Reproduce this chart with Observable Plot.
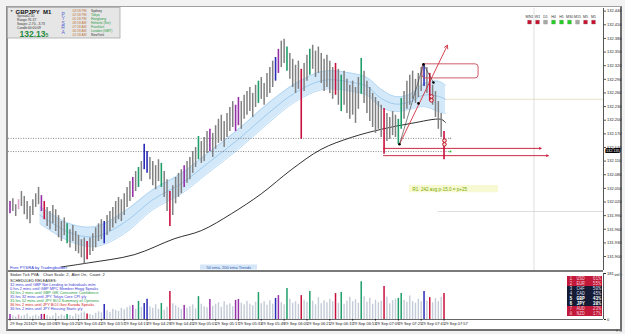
<!DOCTYPE html>
<html><head><meta charset="utf-8">
<script src="https://cdn.jsdelivr.net/npm/d3@7"></script>
<script src="https://cdn.jsdelivr.net/npm/@observablehq/plot@0.6"></script>
<style>
html,body{margin:0;padding:0;background:#f2f2f2;overflow:hidden;}
#wrap{position:relative;width:625px;height:334px;overflow:hidden;background:#f2f2f2;}
#frame{position:absolute;left:6px;top:6px;width:616px;height:325px;box-sizing:border-box;background:#fff;
  border-left:2px solid #8d8d8d;border-top:1px solid #a0a0a0;border-right:2px solid #6f6f6f;border-bottom:2px solid #6f6f6f;}
.layer{position:absolute;}
</style></head><body><div id="wrap"><div id="frame"></div></div>
<script>
// ---------------- DATA ----------------
const symbolName = "GBPJPY  M1";
const bidPrice = 132.135;
const infoLabels = ["Spread:", "Range:", "Swaps:", "Candle:"];
const infoValues = ["2.50", "91.37", "-2.70, -3.73", "00:00:09"];
const sessionTimes = ["03:58 PM", "02:58 PM", "01:58 PM", "08:58 AM", "07:58 AM", "06:58 AM", "01:58 AM"];
const sessionCities = ["Sydney", "Tokyo", "Hongkong", "Helsinki (Srv)", "Frankfurt", "London (GMT)", "NewYork"];
const sessionOpen = [false, true, true, true, true, true, false];
const timeframes = ["MN1", "W1", "D1", "H4", "H1", "M30", "M15", "M5", "M1"];
const tfTrend = ["down", "down", "flat", "up", "up", "up", "flat", "down", "down"];

const priceTicks = [131.90,131.93,131.96,131.99,132.02,132.05,132.08,132.11,132.14,132.17,132.20,132.23,132.26,132.29,132.32,132.35,132.38,132.41,132.44];
const volumeTicks = [0, 181];
const labelMinutes = [0,16,32,48,64,80,96,112,128,144,160,176,192,208,224,240,256,272,288,304];
const timeLabels = ["29 Sep 2016","29 Sep 03:09","29 Sep 03:25","29 Sep 03:41","29 Sep 03:57","29 Sep 04:13","29 Sep 04:29","29 Sep 04:45","29 Sep 05:01","29 Sep 05:17","29 Sep 05:33","29 Sep 05:49","29 Sep 06:05","29 Sep 06:21","29 Sep 06:37","29 Sep 06:53","29 Sep 07:09","29 Sep 07:25","29 Sep 07:41","29 Sep 07:57"];

// 2-minute bars (bar k starts at minute 2k)
const barHigh = [132.021,132.027,132.014,132.025,132.043,132.032,132.021,132.010,132.025,132.038,
 132.052,132.034,132.021,132.008,131.999,132.012,132.003,131.990,131.977,131.985,
 131.972,131.959,131.968,131.955,131.946,131.937,131.941,131.933,131.941,131.950,
 131.963,131.972,131.981,131.977,131.990,131.999,132.008,132.021,132.030,132.025,
 132.038,132.052,132.065,132.074,132.087,132.096,132.109,132.147,132.131,132.118,
 132.109,132.100,132.113,132.105,132.087,132.069,132.043,132.056,132.074,132.083,
 132.091,132.100,132.109,132.118,132.131,132.140,132.164,132.153,132.162,132.175,
 132.180,132.171,132.188,132.202,132.211,132.197,132.215,132.228,132.241,132.233,
 132.250,132.241,132.255,132.263,132.272,132.259,132.277,132.286,132.294,132.281,
 132.303,132.316,132.330,132.338,132.356,132.374,132.378,132.361,132.347,132.334,
 132.321,132.330,132.312,132.325,132.343,132.356,132.365,132.352,132.361,132.347,
 132.334,132.343,132.330,132.316,132.325,132.312,132.299,132.308,132.290,132.277,
 132.286,132.272,132.294,132.336,132.308,132.286,132.272,132.259,132.250,132.241,
 132.233,132.226,132.215,132.206,132.219,132.211,132.202,132.248,132.263,132.286,
 132.299,132.308,132.290,132.303,132.316,132.323,132.316,132.303,132.277,132.263,
 132.241,132.215,132.175];
const barLow = [131.994,131.999,131.988,132.003,132.010,131.992,131.981,131.972,131.990,132.008,
 132.014,131.999,131.981,131.966,131.959,131.972,131.955,131.941,131.933,131.946,
 131.928,131.919,131.933,131.911,131.906,131.897,131.884,131.893,131.902,131.911,
 131.919,131.933,131.937,131.928,131.946,131.955,131.963,131.972,131.981,131.977,
 131.990,132.008,132.021,132.030,132.043,132.052,132.065,132.091,132.083,132.069,
 132.056,132.047,132.065,132.052,132.030,131.999,131.966,131.990,132.016,132.030,
 132.038,132.052,132.061,132.069,132.083,132.096,132.113,132.105,132.109,132.127,
 132.131,132.118,132.136,132.149,132.153,132.140,132.162,132.175,132.184,132.175,
 132.188,132.180,132.202,132.211,132.219,132.206,132.228,132.237,132.246,132.233,
 132.250,132.259,132.272,132.286,132.303,132.316,132.325,132.308,132.290,132.272,
 132.259,132.268,132.158,132.263,132.286,132.299,132.312,132.294,132.303,132.281,
 132.263,132.272,132.259,132.246,132.255,132.233,132.219,132.233,132.215,132.202,
 132.211,132.193,132.224,132.257,132.237,132.215,132.197,132.184,132.171,132.180,
 132.162,132.125,132.153,132.158,132.166,132.162,132.147,132.180,132.202,132.224,
 132.233,132.246,132.237,132.250,132.263,132.274,132.259,132.241,132.233,132.206,
 132.180,132.162,132.113];
const tickVolume = [20,14,10,18,12,16,22,10,14,18,
 12,20,20,16,10,14,24,12,18,14,
 20,16,12,22,18,26,30,22,20,16,
 24,30,26,59,34,28,40,36,32,44,
 38,46,52,55,40,71,48,63,80,50,
 44,58,40,63,36,48,110,62,54,46,
 40,55,44,50,58,42,90,60,50,46,
 79,52,60,66,48,70,56,62,50,75,
 79,64,58,72,60,54,68,106,62,70,
 56,74,60,83,94,66,58,122,80,64,
 70,60,94,76,68,110,72,58,86,62,
 74,66,80,70,102,64,106,60,72,88,
 70,78,64,149,90,68,84,60,76,66,
 72,130,88,62,74,80,83,102,76,68,
 92,70,64,80,70,110,72,86,66,82,
 70,88,102];
const pvaIdx  = [0,3,11,12,20,27,33,43,45,47,48,53,56,61,66,70,79,80,87,93,94,97,102,105,114,116,123,131,136,137,145,147,152];
const pvaType = ["rising","risingLight","rising","climaxBear","climaxBull","climaxBear","churn","rising","climaxBull","churn","churn","climaxBull","climaxBear","rising","climaxBull","rising","rising","rising","climaxBull","churn","rising","climaxBull","climaxBear","climaxBull","climaxBear","climaxBull","climaxBull","climaxBear","climaxBull","climaxBull","churn","climaxBear","climaxBear"];

// 50 EMA ribbon and 200 EMA (read at sample minutes)
const bandMinute = [21,42,60,80,100,120,140,160,180,200,220,240,250,260,270,280,290,300,305];
const bandUpper = [132.010,131.972,131.966,131.999,132.047,132.083,132.131,132.180,132.235,132.281,132.308,132.303,132.294,132.268,132.252,132.257,132.281,132.286,132.277];
const bandLower = [131.972,131.933,131.922,131.950,132.003,132.038,132.087,132.136,132.191,132.241,132.268,132.263,132.255,132.228,132.219,132.224,132.230,132.219,132.215];
const ema200Minute = [36,55,87,115,134,155,176,197,218,239,260,281,302,305];
const ema200Value = [131.877,131.886,131.904,131.939,131.957,131.994,132.038,132.091,132.136,132.162,132.180,132.193,132.202,132.195];

// drawn objects
const dottedLevels = [132.160, 132.131];
const zoneLevels = [132.138, 132.122];
const zoneStart = 261.6, zoneEnd = [372, 377];
const faintLevels = [132.246, 131.999];
const nowMinute = 367;
const swingMinute = [272.8, 286.1, 289.6, 296.6];
const swingPrice = [132.147, 132.237, 132.323, 132.283];
const arrowFrom = [272.8, 132.147], arrowTo = [306.4, 132.365];
const targetBox = {m1: 288.9, m2: 328.2, p1: 132.323, p2: 132.292};
const eightMinute = [295.2, 304.3], eightPrice = [132.248, 132.151];
const markMinute = [308.5, 308.5], markPrice = [132.160, 132.131];
const r1Text = "R1: 242 avg p-15.0 = p+25";

const releases = ["32 mins until GBP Net Lending to Individuals m/m",
 "0 hrs 2 mins until GBP MPC Member Hogg Speaks",
 "34 hrs 2 mins until GBP GfK Consumer Confidence",
 "35 hrs 32 mins until JPY Tokyo Core CPI y/y",
 "35 hrs 52 mins until JPY BOJ Summary of Opinions",
 "36 hrs 2 mins until JPY BOJ Gov Kuroda Speaks",
 "36 hrs 2 mins until JPY Housing Starts y/y"];
const releaseImpact = ["low","low","medium","low","medium","high","low"];

const currencies = ["USD","EUR","CHF","CAD","GBP","JPY","AUD","NZD"];
const strengths = [61,55,50,45,43,38,23,17];

// ---------------- STYLE ----------------
const font = "Liberation Sans, Arial, sans-serif";
const pvaColors = {climaxBull:"#1f9e6a", climaxBear:"#c8103c", churn:"#2a2ab8", rising:"#9630a8", risingLight:"#dda0c8"};
const trendColors = {up:"#22d022", down:"#c8102e", flat:"#a8a8a8"};
const impactColors = {low:"#3a3ad0", medium:"#1e9a40", high:"#d02020"};
const xDomain = [-1.05, 415.7];
const wrap = document.getElementById("wrap");
function place(el, left, top){ el.classList.add("layer"); el.style.left = left+"px"; el.style.top = top+"px"; wrap.appendChild(el); }

const bars = barHigh.map((h, k) => {
  const j = pvaIdx.indexOf(k);
  return {t: 2*k, high: h, low: barLow[k], vol: tickVolume[k], type: j >= 0 ? pvaType[j] : "normal"};
});
const normalBars = bars.filter(d => d.type === "normal");
const pvaBars = bars.filter(d => d.type !== "normal");
const band = bandMinute.map((t,i) => ({t, hi: bandUpper[i], lo: bandLower[i]}));
const ema = ema200Minute.map((t,i) => ({t, v: ema200Value[i]}));
const swings = swingMinute.map((t,i) => ({t, p: swingPrice[i]}));
const eights = eightMinute.map((t,i)=>({t, p: eightPrice[i]}));

// ---------------- MAIN CHART ----------------
const main = Plot.plot({
  width: 617, height: 262, marginTop: 0, marginBottom: 0, marginLeft: 0, marginRight: 22,
  style: {background: "transparent", fontFamily: font, fontSize: "4px", color: "#222"},
  color: {type: "identity"},
  x: {domain: xDomain, axis: null},
  y: {domain: [131.8692, 132.4459]},
  marks: [
    Plot.ruleX([nowMinute], {stroke: "#d6d6d6", strokeWidth: 0.8}),
    Plot.ruleY([faintLevels[0]], {x1: 300, x2: xDomain[1], stroke: "#e4d9bf", strokeWidth: 0.8}),
    Plot.ruleY([faintLevels[1]], {x1: 300, x2: xDomain[1], stroke: "#d4d4d4", strokeWidth: 0.8}),
    Plot.areaY(band, {x: "t", y1: "lo", y2: "hi", fill: "#d3e8f9", curve: "catmull-rom"}),
    Plot.line(band, {x: "t", y: "hi", stroke: "#a7d0f1", strokeWidth: 0.8, curve: "catmull-rom"}),
    Plot.line(band, {x: "t", y: "lo", stroke: "#a7d0f1", strokeWidth: 0.8, curve: "catmull-rom"}),
    Plot.line(band, {x: "t", y: d => (d.hi + d.lo) / 2, stroke: "#86bde8", strokeWidth: 0.7, curve: "catmull-rom"}),
    Plot.ruleY(dottedLevels, {x1: -1, x2: 308, stroke: "#555", strokeDasharray: "1 1.5", strokeWidth: 0.7}),
    Plot.line(ema, {x: "t", y: "v", stroke: "#1a1a1a", strokeWidth: 0.9, curve: "catmull-rom"}),
    Plot.ruleX(normalBars, {x: "t", y1: "low", y2: "high", stroke: "#808080", strokeWidth: 1.5}),
    Plot.ruleX(pvaBars, {x: "t", y1: "low", y2: "high", stroke: d => pvaColors[d.type], strokeWidth: 1.6}),
    Plot.arrow(zoneLevels, {x1: () => zoneStart, x2: (d, i) => zoneEnd[i], y1: d => d, y2: d => d, stroke: "#c8102e", strokeWidth: 0.9, headLength: 3, headAngle: 50}),
    Plot.rect([targetBox], {x1: "m1", x2: "m2", y1: "p1", y2: "p2", fill: "none", stroke: "#c84858", strokeWidth: 0.9, rx: 3}),
    Plot.arrow([0], {x1: () => arrowFrom[0], y1: () => arrowFrom[1], x2: () => arrowTo[0], y2: () => arrowTo[1], stroke: "#d23040", strokeWidth: 0.9, headLength: 6}),
    Plot.line([swings[0], swings[2], swings[3]], {x: "t", y: "p", stroke: "#333", strokeWidth: 0.6}),
    Plot.dot(swings, {x: "t", y: "p", r: 1.3, fill: "#000"}),
    Plot.dot(eights, {x: "t", y: "p", r: 1.8, dy: -1.9, fill: "#f6dcdc", stroke: "#c01020", strokeWidth: 1}),
    Plot.dot(eights, {x: "t", y: "p", r: 1.8, dy: 1.9, fill: "#f6dcdc", stroke: "#c01020", strokeWidth: 1}),
    Plot.dot([0], {x: () => markMinute[0], y: () => markPrice[0], r: 0.8, fill: "#999"}),
    Plot.dot([0], {x: () => markMinute[1], y: () => markPrice[1], r: 1, fill: "#22bb22"}),
    Plot.ruleX([xDomain[1]], {stroke: "#555", strokeWidth: 1}),
    Plot.axisY({anchor: "right", ticks: priceTicks, tickFormat: d => d.toFixed(3), tickSize: 2, tickPadding: 1.5, fontSize: 4, stroke: "#555"}),
    Plot.text([bidPrice], {x: () => xDomain[1], y: d => d, text: d => d.toFixed(3), dx: 2.5, dy: 1, textAnchor: "start", fontSize: 3.8, fill: "#fff", stroke: "#000", strokeWidth: 2, strokeLinejoin: "miter"})
  ]
});
place(main, 8, 8);

// ---------------- VOLUME SUB-WINDOW ----------------
const sub = Plot.plot({
  width: 617, height: 64, marginTop: 3, marginBottom: 15, marginLeft: 0, marginRight: 22,
  style: {background: "transparent", fontFamily: font, fontSize: "4px", color: "#222"},
  color: {type: "identity"},
  x: {domain: xDomain},
  y: {domain: [0, 181]},
  marks: [
    Plot.ruleX(normalBars, {x: "t", y1: 0, y2: "vol", stroke: "#c3cbd7", strokeWidth: 1.4}),
    Plot.ruleX(pvaBars, {x: "t", y1: 0, y2: "vol", stroke: d => pvaColors[d.type], strokeWidth: 1.5}),
    Plot.ruleX([xDomain[1]], {stroke: "#555", strokeWidth: 1}),
    Plot.ruleY([0], {stroke: "#666", strokeWidth: 1}),
    Plot.axisY({anchor: "right", ticks: volumeTicks, tickSize: 2, tickPadding: 1.5, fontSize: 4}),
    Plot.axisX({ticks: labelMinutes, tickFormat: d => timeLabels[labelMinutes.indexOf(d)], tickSize: 1.5, tickPadding: 1, textAnchor: "start", fontSize: 4})
  ]
});
place(sub, 8, 270);

// ---------------- TIMEFRAME PANEL ----------------
const tfData = timeframes.map((tf, i) => ({tf, trend: tfTrend[i]}));
const tfPlot = Plot.plot({
  width: 80, height: 12, marginTop: 0, marginBottom: 0, marginLeft: 0.75, marginRight: 2.75,
  style: {background: "transparent", fontFamily: font},
  color: {type: "identity"},
  x: {type: "band", domain: timeframes, padding: 0, axis: null},
  marks: [
    Plot.text(tfData, {x: "tf", frameAnchor: "middle", dy: -2.6, text: "tf", fontSize: 3.7, fill: "#333"}),
    Plot.dot(tfData, {x: "tf", frameAnchor: "middle", dy: 2.6, symbol: "square", r: 2.2, fill: d => trendColors[d.trend], stroke: "#888", strokeWidth: 0.3})
  ]
});
place(tfPlot, 522, 13);

// ---------------- CURRENCY STRENGTH TABLE ----------------
const curRows = currencies.map((c, i) => ({rank: i + 1, cur: c, pct: strengths[i]}));
const isRed = d => d.rank <= 2 || d.rank >= 7;
const isHi = d => d.cur === "GBP" || d.cur === "JPY";
const curFill = d => isRed(d) ? "#f4c4cf" : (isHi(d) ? "#fff" : "#d8dbe8");
const plainRows = curRows.filter(d => !isHi(d)), boldRows = curRows.filter(isHi);
const curText = (rows, weight) => [
  Plot.text(rows, {x: () => 2, y: "rank", text: d => String(d.rank), textAnchor: "start", fontSize: 4.6, fontWeight: weight, fill: curFill}),
  Plot.text(rows, {x: () => 9, y: "rank", text: "cur", textAnchor: "start", fontSize: 4.6, fontWeight: weight, fill: curFill}),
  Plot.text(rows, {x: () => 33.5, y: "rank", text: d => d.pct + "%", textAnchor: "end", fontSize: 4.6, fontWeight: weight, fill: curFill})
];
const curPlot = Plot.plot({
  width: 35, height: 45.5, margin: 0,
  style: {background: "transparent", fontFamily: "Liberation Mono, DejaVu Sans Mono, monospace"},
  color: {type: "identity"},
  x: {domain: [0, 35], range: [0, 35], axis: null},
  y: {type: "band", domain: curRows.map(d => d.rank), padding: 0, axis: null},
  marks: [
    Plot.cell(curRows, {y: "rank", fill: d => isRed(d) ? "#c2183a" : "#151b34"}),
    ...curText(plainRows, "normal"),
    ...curText(boldRows, "bold")
  ]
});
place(curPlot, 567, 273);

// ---------------- TEXT OVERLAY ----------------
const texts = [];
const T = (x, y, text, size, fill, extra = {}) => texts.push(Object.assign({x, y, text, size, fill, weight: "normal", anchor: "start"}, extra));
T(9.5, 10.8, "▼", 3.2, "#222");
T(15, 11.2, symbolName, 6, "#111", {weight: "bold"});
infoLabels.forEach((s, i) => T(16.5, 15.8 + 3.8 * i, s, 3.3, "#333"));
infoValues.forEach((s, i) => T(27.5, 15.8 + 3.8 * i, s, 3.3, "#333"));
T(19, 33.4, "132.13", 8.5, "#1d8a3a", {weight: "bold"});
T(45, 34.4, "5", 5, "#1d8a3a", {weight: "bold"});
"PYSRA".split("").forEach((c, i) => T(62.6, 13.4 + 4.6 * i, c, 5, "#5563d0", {anchor: "middle"}));
sessionTimes.forEach((s, i) => T(72, 10 + 4.1 * i, s, 3.3, "#c0763a"));
sessionCities.forEach((s, i) => T(90.5, 10 + 4.1 * i, s, 3.3, sessionOpen[i] ? "#1e9a40" : "#333"));
T(9.5, 266.8, "Free PYSRA by Tradingbuilder", 4.2, "#2c3bd6");
T(206, 267.1, "50 ema, 200 ema Trends", 4, "#3b5ca8");
T(412, 188.7, r1Text, 4.6, "#79a800");
T(9.5, 273.9, "Stoker Tick PVA:   Chart Scale: 2,  Alert On,  Count: 2", 4, "#222");
T(9.5, 280, "SCHEDULED RELEASES:", 3.9, "#222");
releases.forEach((s, i) => T(9.5, 284.3 + 4.05 * i, s, 3.9, impactColors[releaseImpact[i]]));

const boxes = [
  {x1: 7.5, x2: 120, y1: 7.5, y2: 38, fill: "#e6e6e6", stroke: "#a9a9a9"},
  {x1: 200, x2: 257, y1: 264.5, y2: 269.5, fill: "#d4e6f8", stroke: "none"},
  {x1: 409, x2: 498, y1: 185, y2: 192.3, fill: "#f7f9d2", stroke: "none"}
];
const textMarks = [];
for (const anchor of ["start", "middle"]) for (const weight of ["normal", "bold"]) {
  const sel = texts.filter(d => d.anchor === anchor && d.weight === weight);
  if (sel.length) textMarks.push(Plot.text(sel, {x: "x", y: "y", text: "text", fontSize: "size", fill: "fill", fontWeight: weight, textAnchor: anchor}));
}
const ui = Plot.plot({
  width: 625, height: 334, margin: 0,
  style: {background: "transparent", fontFamily: font},
  color: {type: "identity"},
  x: {domain: [0, 625], range: [0, 625], axis: null},
  y: {domain: [0, 334], range: [0, 334], axis: null},
  marks: [
    Plot.rect(boxes, {x1: "x1", x2: "x2", y1: "y1", y2: "y2", fill: "fill", stroke: "stroke", strokeWidth: 0.8}),
    Plot.ruleY([270.5], {x1: () => 8, x2: () => 603, stroke: "#7a7a7a", strokeWidth: 2}),
    ...textMarks
  ]
});
ui.style.pointerEvents = "none";
place(ui, 0, 0);
</script>
</body></html>
